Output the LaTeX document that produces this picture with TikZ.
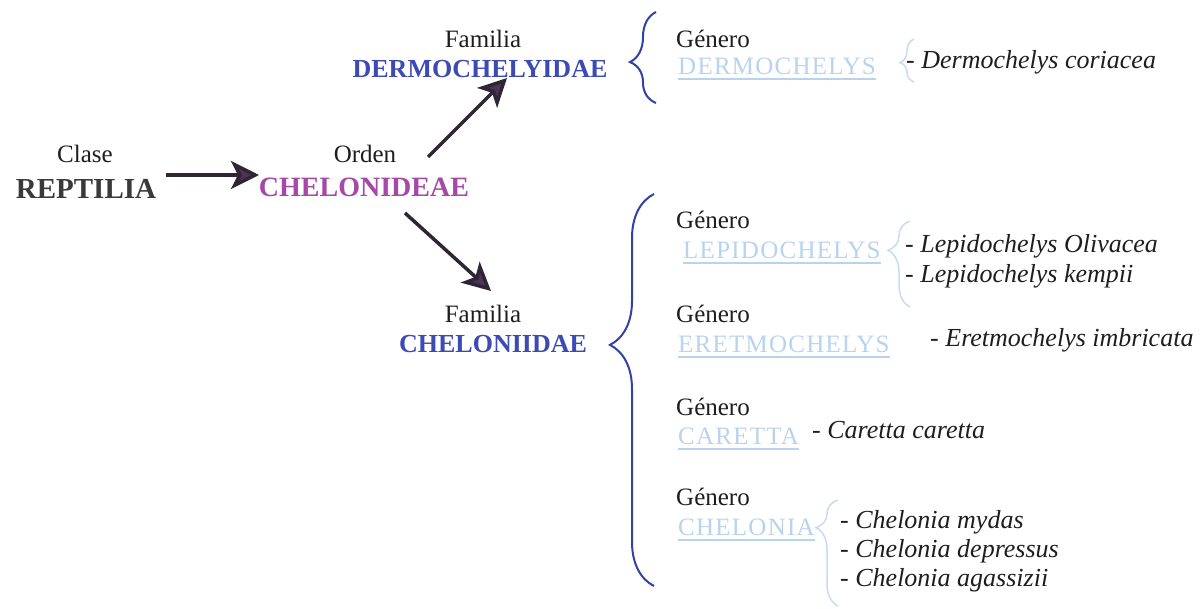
\documentclass[tikz,border=0pt]{standalone}
\usepackage{fontspec}
\setmainfont{Liberation Serif}
\usetikzlibrary{arrows.meta,decorations.pathreplacing,calc}
\definecolor{textblack}{HTML}{1E1E1E}
\definecolor{reptgray}{HTML}{3A3A3A}
\definecolor{chelpurple}{HTML}{A548A8}
\definecolor{famblue}{HTML}{3C4AB4}
\definecolor{bracedark}{HTML}{3042A6}
\definecolor{genlight}{HTML}{B9D3EE}
\definecolor{sbrace}{HTML}{C5DCF2}
\definecolor{arrowc}{HTML}{2F2535}
\definecolor{arrowhead}{HTML}{4B3552}
\begin{document}
\begin{tikzpicture}[x=1pt,y=-1pt,
  lab/.style={inner sep=0pt, anchor=base, font=\fontsize{25}{30}\selectfont, text=textblack},
  big/.style={inner sep=0pt, anchor=base, font=\fontsize{29}{34}\selectfont\bfseries},
  fam/.style={inner sep=0pt, anchor=base, font=\fontsize{26}{30}\selectfont\bfseries, text=famblue},
  genlab/.style={inner sep=0pt, anchor=base west, font=\fontsize{25}{30}\selectfont, text=textblack},
  gen/.style={inner sep=0pt, anchor=base west, font=\fontsize{25}{30}\selectfont\addfontfeature{LetterSpace=5}, text=genlight},
  sp/.style={inner sep=0pt, anchor=base west, font=\fontsize{26}{30}\selectfont\itshape, text=textblack},
  uline/.style={draw=genlight, line width=1.2pt},
  arr/.style={line width=3.5pt, draw=arrowc, -{Stealth[length=28pt,width=28pt,inset=7pt,fill=arrowhead]}},
  bbrace/.style={draw=bracedark, line width=2pt, decorate},
  sbr/.style={draw=sbrace, line width=1.5pt, decorate},
]
\useasboundingbox[fill=white] (0,0) rectangle (1204,608);

% left part
\node[lab] (clase) at (85,162) {Clase};
\node[big, text=reptgray] (rep) at (86,198) {REPTILIA};
\node[lab] (orden) at (365,162) {Orden};
\node[big, text=chelpurple, font=\fontsize{28}{34}\selectfont\bfseries] (chel) at (364,196) {CHELONIDEAE};

% families
\node[lab] (fam1) at (483,47) {Familia};
\node[fam] (dermo) at (480,77) {DERMOCHELYIDAE};
\node[lab] (fam2) at (483,322) {Familia};
\node[fam] (chelo) at (493,352) {CHELONIIDAE};

% arrows
\coordinate (a0s) at (166,175);
\coordinate (a0e) at (259,175);
\coordinate (a1s) at (428,157);
\coordinate (a1e) at (507,78);
\coordinate (a2s) at (405,213);
\coordinate (a2e) at (491,291);
\draw[arr] (a0s) -- (a0e);
\draw[arr] (a1s) -- (a1e);
\draw[arr] (a2s) -- (a2e);

% big braces
\coordinate (b1b) at (656,103);
\coordinate (b1t) at (656,12);
\draw[bbrace, decoration={brace, amplitude=26pt, aspect=0.45}] (b1b) -- (b1t);
\coordinate (b2b) at (654,586);
\coordinate (b2t) at (654,194);
\draw[bbrace, decoration={brace, amplitude=44pt, aspect=0.615}] (b2b) -- (b2t);

% genus 1
\node[genlab] (g1l) at (676,47) {Género};
\node[gen] (g1) at (678,74) {DERMOCHELYS};
\draw[uline] ([yshift=-5pt]g1.base west) -- ([yshift=-5pt]g1.base east);
\coordinate (s1b) at (914,82);
\coordinate (s1t) at (914,39);
\draw[sbr, decoration={brace, amplitude=14pt, aspect=0.45}] (s1b) -- (s1t);
\node[sp] (sp1) at (906,68) {- Dermochelys coriacea};

% genus 2
\node[genlab] (g2l) at (676,228) {Género};
\node[gen] (g2) at (683,258) {LEPIDOCHELYS};
\draw[uline] ([yshift=-5pt]g2.base west) -- ([yshift=-5pt]g2.base east);
\coordinate (s2b) at (910,307);
\coordinate (s2t) at (910,221);
\draw[sbr, decoration={brace, amplitude=22pt, aspect=0.66}] (s2b) -- (s2t);
\node[sp] (sp2a) at (905,252) {- Lepidochelys Olivacea};
\node[sp] (sp2b) at (905,282) {- Lepidochelys kempii};

% genus 3
\node[genlab] (g3l) at (676,322) {Género};
\node[gen] (g3) at (678,352) {ERETMOCHELYS};
\draw[uline] ([yshift=-5pt]g3.base west) -- ([yshift=-5pt]g3.base east);
\node[sp] (sp3) at (930,346) {- Eretmochelys imbricata};

% genus 4
\node[genlab] (g4l) at (676,415) {Género};
\node[gen] (g4) at (678,444) {CARETTA};
\draw[uline] ([yshift=-5pt]g4.base west) -- ([yshift=-5pt]g4.base east);
\node[sp] (sp4) at (812,438) {- Caretta caretta};

% genus 5
\node[genlab] (g5l) at (676,505) {Género};
\node[gen] (g5) at (678,535) {CHELONIA};
\draw[uline] ([yshift=-5pt]g5.base west) -- ([yshift=-5pt]g5.base east);
\coordinate (s5b) at (838,606);
\coordinate (s5t) at (838,500);
\draw[sbr, decoration={brace, amplitude=22pt, aspect=0.74}] (s5b) -- (s5t);
\node[sp] (sp5a) at (840,528) {- Chelonia mydas};
\node[sp] (sp5b) at (840,557) {- Chelonia depressus};
\node[sp] (sp5c) at (840,586) {- Chelonia agassizii};
\end{tikzpicture}
\end{document}
